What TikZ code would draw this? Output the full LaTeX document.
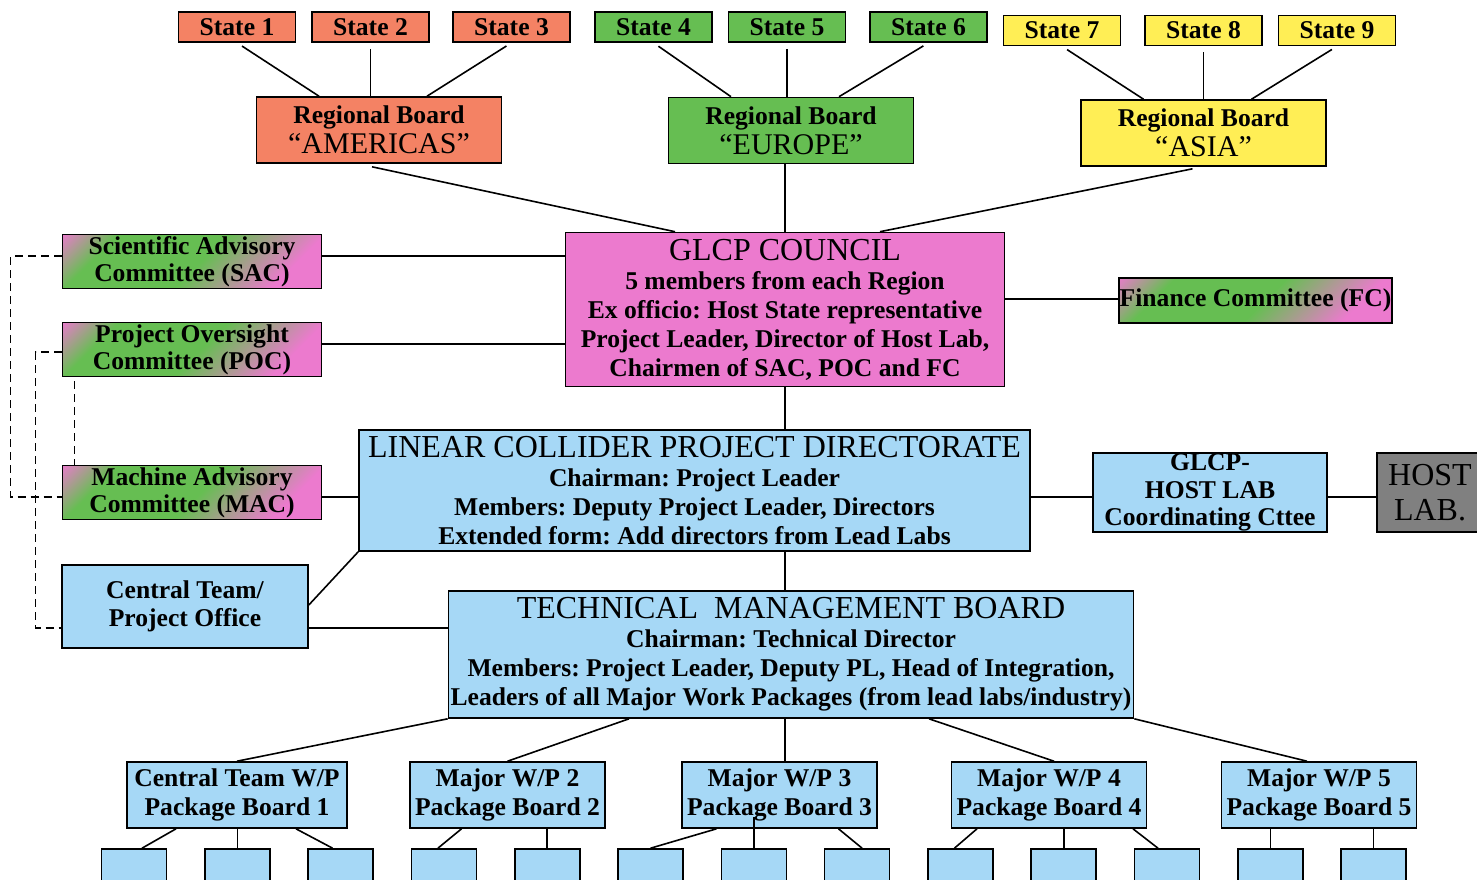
\documentclass[tikz,border=0pt]{standalone}
\usepackage{fontspec}
\setmainfont{Liberation Serif}
\usetikzlibrary{positioning,calc}
\frenchspacing
\definecolor{salmon}{RGB}{244,130,100}
\definecolor{leafgreen}{RGB}{102,190,82}
\definecolor{sunyellow}{RGB}{255,238,85}
\definecolor{councilpink}{RGB}{236,122,206}
\definecolor{skyblue}{RGB}{166,216,246}
\definecolor{hostgray}{RGB}{128,128,128}
\pgfdeclarehorizontalshading{pinkgreen}{100bp}{color(0bp)=(councilpink); color(14bp)=(councilpink); color(27bp)=(leafgreen); color(52bp)=(leafgreen); color(74bp)=(councilpink); color(100bp)=(councilpink)}
\newcommand{\bodytxt}{\fontsize{25.6}{29}\selectfont}
\newcommand{\titletxt}{\fontsize{32}{34}\selectfont}
\tikzset{orgbox/.style={draw, line width=1.6pt, inner sep=0pt, align=center, font=\bfseries\bodytxt}}
\tikzset{statebox/.style={orgbox, minimum width=117pt, minimum height=30pt}}
\tikzset{regbox/.style={orgbox, minimum width=245pt, minimum height=66pt}}
\tikzset{commbox/.style={orgbox, shading=pinkgreen, shading angle=-45, minimum width=259pt, minimum height=54pt, font=\bfseries\fontsize{25.6}{27}\selectfont}}
\tikzset{bluebox/.style={orgbox, fill=skyblue}}
\tikzset{pkgbox/.style={bluebox, minimum width=195pt, minimum height=66pt}}
\tikzset{smallbox/.style={bluebox, minimum width=65pt, minimum height=50pt}}
\tikzset{link/.style={line width=1.6pt}}
\tikzset{dlink/.style={line width=1.4pt, dash pattern=on 8pt off 5pt}}

\begin{document}
\begin{tikzpicture}[x=1pt,y=-1pt]
\useasboundingbox (0,0) rectangle (1477,879);
\clip (0,0) rectangle (1477,879);

\node[statebox, fill=salmon]    (s1) at (237,27)     {State 1};
\node[statebox, fill=salmon]    (s2) at (370.5,27)   {State 2};
\node[statebox, fill=salmon]    (s3) at (511.5,27)   {State 3};
\node[statebox, fill=leafgreen] (s4) at (653.5,27)   {State 4};
\node[statebox, fill=leafgreen] (s5) at (787,27)     {State 5};
\node[statebox, fill=leafgreen] (s6) at (928.5,27)   {State 6};
\node[statebox, fill=sunyellow] (s7) at (1062,30.5)  {State 7};
\node[statebox, fill=sunyellow] (s8) at (1203.5,30.5){State 8};
\node[statebox, fill=sunyellow] (s9) at (1337,30.5)  {State 9};

\node[regbox, fill=salmon]    (rb1) at (379,130)    {Regional Board\\[1pt]{\mdseries\fontsize{30}{30}\selectfont “AMERICAS”}};
\node[regbox, fill=leafgreen] (rb2) at (791,130.5)  {Regional Board\\[1pt]{\mdseries\fontsize{30}{30}\selectfont “EUROPE”}};
\node[regbox, fill=sunyellow] (rb3) at (1203.5,133) {Regional Board\\[1pt]{\mdseries\fontsize{30}{30}\selectfont “ASIA”}};

\node[orgbox, fill=councilpink, minimum width=439pt, minimum height=154pt] (council) at (785,309.5)
  {{\mdseries\titletxt GLCP COUNCIL}\\5 members from each Region\\Ex officio: Host State representative\\Project Leader, Director of Host Lab,\\Chairmen of SAC, POC and FC};

\node[commbox] (sac) at (192,261.5) {Scientific Advisory\\Committee (SAC)};
\node[commbox] (poc) at (192,349.5) {Project Oversight\\Committee (POC)};
\node[commbox] (mac) at (192,492.5) {Machine Advisory\\Committee (MAC)};
\node[commbox, minimum width=273pt, minimum height=45pt] (fc) at (1255.5,300.5) {Finance Committee (FC)};

\node[bluebox, minimum width=246pt, minimum height=83pt, font=\bfseries\fontsize{25.6}{28}\selectfont] (central) at (185,606.5) {Central Team/\\Project Office};

\node[bluebox, minimum width=671pt, minimum height=121pt] (lcpd) at (694.5,490.5)
  {{\mdseries\titletxt LINEAR COLLIDER PROJECT DIRECTORATE}\\Chairman: Project Leader\\Members: Deputy Project Leader, Directors\\Extended form: Add directors from Lead Labs};
\node[bluebox, minimum width=234pt, minimum height=79pt, font=\bfseries\fontsize{25.6}{27.5}\selectfont] (ghc) at (1210,492.5) {GLCP-\\HOST LAB\\Coordinating Cttee};
\node[orgbox, fill=hostgray, minimum width=106pt, minimum height=79pt, font=\fontsize{32}{35}\selectfont] (hostlab) at (1430,492.5) {HOST\\LAB.};

\node[bluebox, minimum width=685pt, minimum height=127pt] (tmb) at (791,654.5)
  {{\mdseries\titletxt TECHNICAL \ MANAGEMENT BOARD}\\Chairman: Technical Director\\Members: Project Leader, Deputy PL, Head of Integration,\\Leaders of all Major Work Packages (from lead labs/industry)};

\node[pkgbox, minimum width=220pt] (pb1) at (237,795)    {Central Team W/P\\Package Board 1};
\node[pkgbox]                      (pb2) at (507.5,795)  {Major W/P 2\\Package Board 2};
\node[pkgbox]                      (pb3) at (779.5,795)  {Major W/P 3\\Package Board 3};
\node[pkgbox]                      (pb4) at (1049,795)   {Major W/P 4\\Package Board 4};
\node[pkgbox]                      (pb5) at (1319,795)   {Major W/P 5\\Package Board 5};

\foreach \i in {1,...,13}
  \node[smallbox] (b\i) at ({30.7+103.3*\i},874) {};

% states to regional boards
\draw[link, shorten <=6pt] (s1.south) -- ($(rb1.north)+(-60,0)$);
\draw[link, shorten <=6pt] (s2.south) -- (s2.south |- rb1.north);
\draw[link, shorten <=6pt] (s3.south) -- ($(rb1.north)+(48,0)$);
\draw[link, shorten <=6pt] (s4.south) -- ($(rb2.north)+(-60,0)$);
\draw[link, shorten <=6pt] (s5.south) -- (s5.south |- rb2.north);
\draw[link, shorten <=6pt] (s6.south) -- ($(rb2.north)+(48,0)$);
\draw[link, shorten <=6pt] (s7.south) -- ($(rb3.north)+(-60,0)$);
\draw[link, shorten <=6pt] (s8.south) -- (s8.south |- rb3.north);
\draw[link, shorten <=6pt] (s9.south) -- ($(rb3.north)+(48,0)$);

% regional boards to council
\draw[link] ($(rb1.south)+(-7,3)$) -- ($(council.north)+(-110,0)$);
\draw[link] (council.north |- rb2.south) -- (council.north);
\draw[link] ($(rb3.south)+(-11,2)$) -- ($(council.north)+(95,0)$);

% committees
\draw[link] ($(sac.east)+(0,-5.5)$) -- ($(council.west)+(0,-53.5)$);
\draw[link] ($(poc.east)+(0,-5.5)$) -- ($(council.west)+(0,34.5)$);
\draw[link] ($(council.east)+(0,-10.5)$) -- ($(fc.west)+(0,-1.5)$);
\draw[link] ($(mac.east)+(0,4.5)$) -- ($(lcpd.west)+(0,6.5)$);
\draw[dlink] ($(sac.west)+(0,-5.5)$) -- ++(-51,0) |- ($(mac.west)+(0,4.5)$);
\draw[dlink] ($(poc.west)+(0,2.5)$) -- ++(-26,0) |- ($(central.west)+(0,21.5)$);
\draw[dlink] ($(poc.south west)+(13,4)$) -- ($(mac.north west)+(13,0)$);

% directorate and management board
\draw[link] (council.south) -- (council.south |- lcpd.north);
\draw[link] ($(lcpd.east)+(0,6.5)$) -- ($(ghc.west)+(0,4.5)$);
\draw[link] ($(ghc.east)+(0,4.5)$) -- ($(hostlab.west)+(0,4.5)$);
\draw[link] ($(central.east)+(0,-1.5)$) -- (lcpd.south west);
\draw[link] ($(central.east)+(0,21.5)$) -- ($(tmb.west)+(0,-26.5)$);
\draw[link] (council.south |- lcpd.south) -- (council.south |- tmb.north);

% package boards
\draw[link] (tmb.south west) -- (pb1.north);
\draw[link] ($(tmb.south)+(-162,0)$) -- (pb2.north);
\draw[link] (council.south |- tmb.south) -- (council.south |- pb3.north);
\draw[link] ($(tmb.south)+(138,0)$) -- ($(pb4.north)+(5,0)$);
\draw[link] (tmb.south east) -- ($(pb5.north)+(-12,0)$);

\draw[link] ($(pb1.south)+(-61,0)$) -- ($(b1.north)+(8,0)$);
\draw[link] (b2.north) -- (b2.north |- pb1.south);
\draw[link] ($(pb1.south)+(59,0)$) -- ($(b3.north)+(-8,0)$);
\draw[link] ($(pb2.south)+(-46,0)$) -- ($(b4.north)+(-6,0)$);
\draw[link] (b5.north) -- (b5.north |- pb2.south);
\draw[link] ($(pb3.south)+(-63,0)$) -- (b6.north);
\draw[link] (b7.north) -- ($(b7.north)+(0,-31)$);
\draw[link] ($(pb3.south)+(59,0)$) -- ($(b8.north)+(5,0)$);
\draw[link] ($(pb4.south)+(-72,0)$) -- ($(b9.north)+(-6,0)$);
\draw[link] (b10.north) -- (b10.north |- pb4.south);
\draw[link] ($(pb4.south)+(84,0)$) -- ($(b11.north)+(-9,0)$);
\draw[link] (b12.north) -- (b12.north |- pb5.south);
\draw[link] (b13.north) -- (b13.north |- pb5.south);
\end{tikzpicture}
\end{document}
